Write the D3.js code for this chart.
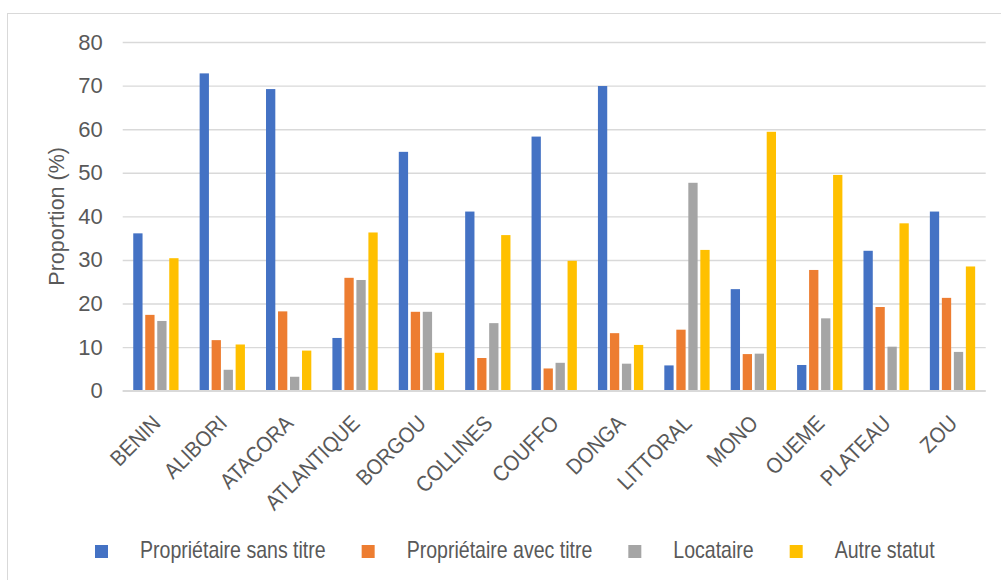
<!DOCTYPE html>
<html>
<head>
<meta charset="utf-8">
<script src="https://cdn.jsdelivr.net/npm/d3@7"></script>
<style>
  html, body { margin: 0; padding: 0; background: #fff; }
  svg { display: block; font-family: "Liberation Sans", Arial, sans-serif; }
</style>
</head>
<body>
<svg id="chart" width="1001" height="580"></svg>
<script>
// Départements and the four occupancy-status series (%)
const categories = ["BENIN", "ALIBORI", "ATACORA", "ATLANTIQUE", "BORGOU", "COLLINES", "COUFFO",
                    "DONGA", "LITTORAL", "MONO", "OUEME", "PLATEAU", "ZOU"];
const seriesNames = ["Propriétaire sans titre", "Propriétaire avec titre", "Locataire", "Autre statut"];
const seriesColors = ["#4472C4", "#ED7D31", "#A5A5A5", "#FFC000"];

const proprietaireSansTitre = [36.1, 72.8, 69.2, 12.1, 54.8, 41.1, 58.3, 69.9, 5.8, 23.3, 5.9, 32.1, 41.1];
const proprietaireAvecTitre = [17.4, 11.6, 18.2, 25.9, 18.1, 7.5, 5.1, 13.2, 14.0, 8.4, 27.7, 19.2, 21.3];
const locataire             = [16.0, 4.8, 3.2, 25.4, 18.1, 15.5, 6.4, 6.2, 47.7, 8.5, 16.6, 10.1, 8.9];
const autreStatut           = [30.4, 10.6, 9.2, 36.3, 8.7, 35.7, 29.8, 10.5, 32.3, 59.4, 49.5, 38.4, 28.5];

const yTicks = [0, 10, 20, 30, 40, 50, 60, 70, 80];
const yTitle = "Proportion (%)";

const seriesValues = [proprietaireSansTitre, proprietaireAvecTitre, locataire, autreStatut];
const rows = categories.map((c, i) => ({
  cat: c,
  vals: seriesNames.map((s, j) => ({ key: s, color: seriesColors[j], value: seriesValues[j][i] }))
}));

const svg = d3.select("#chart");
const textColor = "#595959";
const gridColor = "#d9d9d9";

// outer frame
svg.append("rect")
  .attr("x", 7.5).attr("y", 13.5)
  .attr("width", 1020).attr("height", 600)
  .attr("fill", "none").attr("stroke", gridColor).attr("stroke-width", 1);

const plot = { left: 122.7, right: 985.7, top: 42, bottom: 390.7 };

const x0 = d3.scaleBand()
  .domain(categories)
  .range([plot.left, plot.right])
  .paddingInner(0.277)
  .paddingOuter(0.1385);

const x1 = d3.scaleBand()
  .domain(seriesNames)
  .range([0, x0.bandwidth()])
  .paddingInner(0.225)
  .paddingOuter(0.1125);

const y = d3.scaleLinear().domain([0, 80]).range([plot.bottom, plot.top]);

// horizontal gridlines + tick labels
const yAxis = d3.axisLeft(y).tickValues(yTicks).tickSize(-(plot.right - plot.left)).tickPadding(20);
const gy = svg.append("g").attr("transform", `translate(${plot.left},0)`).call(yAxis);
gy.select(".domain").remove();
gy.selectAll(".tick line").attr("stroke", gridColor).attr("stroke-width", 1.4);
gy.selectAll(".tick text")
  .attr("fill", textColor)
  .attr("font-size", 22)
  .attr("font-family", "'Liberation Sans', Arial, sans-serif");

// bars
const groups = svg.append("g").selectAll("g")
  .data(rows).join("g")
  .attr("transform", d => `translate(${x0(d.cat)},0)`);

groups.selectAll("rect")
  .data(d => d.vals).join("rect")
  .attr("x", d => x1(d.key))
  .attr("y", d => y(d.value))
  .attr("width", x1.bandwidth())
  .attr("height", d => y(0) - y(d.value))
  .attr("fill", d => d.color);

// category labels, rotated and slightly condensed
const xAxis = d3.axisBottom(x0).tickSize(0).tickPadding(0);
const gx = svg.append("g").attr("transform", `translate(0,${plot.bottom})`).call(xAxis);
gx.select(".domain").remove();
gx.selectAll(".tick text")
  .attr("fill", textColor)
  .attr("font-size", 22)
  .attr("font-family", "'Liberation Sans', Arial, sans-serif")
  .attr("text-anchor", "end")
  .attr("dy", null)
  .attr("y", null)
  .attr("transform", "translate(6,34) rotate(-45) scale(0.9,1)");

// baseline
svg.append("line")
  .attr("x1", plot.left).attr("x2", plot.right)
  .attr("y1", y(0)).attr("y2", y(0))
  .attr("stroke", gridColor).attr("stroke-width", 1.6);

// y-axis title
svg.append("text")
  .attr("transform", `translate(63.5,${(plot.top + plot.bottom) / 2}) rotate(-90)`)
  .attr("text-anchor", "middle")
  .attr("fill", textColor)
  .attr("font-size", 21.5)
  .text(yTitle);

// legend (condensed text)
const legend = svg.append("g").attr("transform", "translate(95,545)");
const legendScale = 0.85;
let lx = 0;
seriesNames.forEach((name, i) => {
  const item = legend.append("g").attr("transform", `translate(${lx},0)`);
  item.append("rect").attr("width", 13).attr("height", 13).attr("fill", seriesColors[i]);
  const t = item.append("text")
    .attr("transform", `translate(45,12.5) scale(${legendScale},1)`)
    .attr("fill", textColor)
    .attr("font-size", 23)
    .text(name);
  lx += 45 + t.node().getComputedTextLength() * legendScale + 36;
});
</script>
</body>
</html>
